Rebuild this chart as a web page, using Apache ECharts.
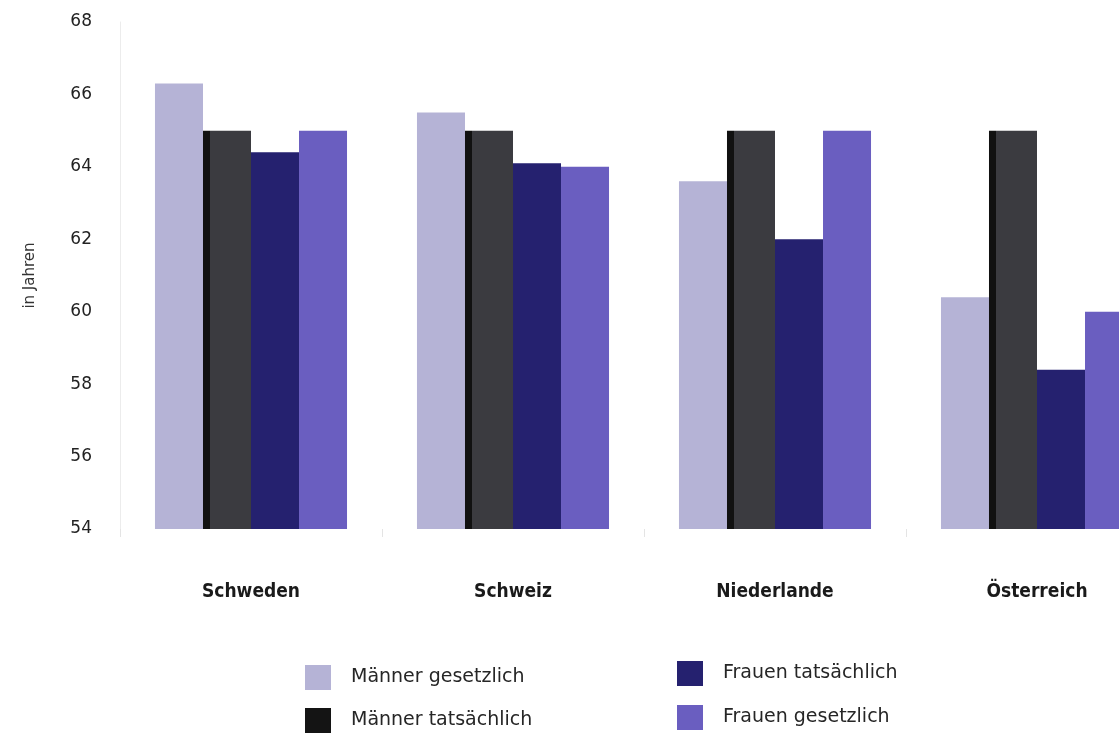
<!DOCTYPE html>
<html>
<head>
<meta charset="utf-8">
<title>Rentenalter</title>
<script src="https://cdn.jsdelivr.net/npm/echarts@6/dist/echarts.min.js"></script>
<style>
  html, body { margin: 0; padding: 0; background: #ffffff; overflow: hidden; }
  /* die Zeichenfläche ist breiter als das Fenster; die letzte Säule wird angeschnitten */
  #chart { width: 1172px; height: 734px; }
</style>
</head>
<body>
<div id="chart"></div>
<script>
// Länder
const countries = ['Schweden', 'Schweiz', 'Niederlande', 'Österreich'];

// Rentenalter in Jahren
const maennerGesetzlich   = [66.3, 65.5, 63.6, 60.4];
const maennerTatsaechlich = [65.0, 65.0, 65.0, 65.0];
const frauenTatsaechlich  = [64.4, 64.1, 62.0, 58.4];
const frauenGesetzlich    = [65.0, 64.0, 65.0, 60.0];

// Achsenskala
const yMin = 54, yMax = 68, yStep = 2;

const chart = echarts.init(document.getElementById('chart'), null, { renderer: 'canvas' });

const legendText = {
  fontFamily: 'DejaVu Sans',
  fontSize: 19,
  color: '#262626',
  padding: [0, 0, 0, 15]
};

// dunkle Säule mit schwarzer linker Kante
const darkBar = new echarts.graphic.LinearGradient(0, 0, 1, 0, [
  { offset: 0, color: '#111111' },
  { offset: 0.14, color: '#111111' },
  { offset: 0.14, color: '#3b3b40' },
  { offset: 1, color: '#3b3b40' }
]);

chart.setOption({
  animation: false,
  backgroundColor: '#ffffff',
  grid: { left: 120, top: 22, width: 1048, height: 507, containLabel: false },
  legend: [
    {
      orient: 'vertical',
      left: 305,
      top: 665,
      padding: 0,
      itemWidth: 26,
      itemHeight: 25,
      itemGap: 18,
      icon: 'rect',
      textStyle: legendText,
      data: [
        { name: 'Männer gesetzlich' },
        { name: 'Männer tatsächlich', itemStyle: { color: '#141414' } }
      ]
    },
    {
      orient: 'vertical',
      left: 677,
      top: 661,
      padding: 0,
      itemWidth: 26,
      itemHeight: 25,
      itemGap: 19,
      icon: 'rect',
      textStyle: legendText,
      data: [{ name: 'Frauen tatsächlich' }, { name: 'Frauen gesetzlich' }]
    }
  ],
  xAxis: {
    type: 'category',
    data: countries,
    axisLine: { show: false },
    axisTick: { show: true, length: 8, lineStyle: { color: '#e4e4e4' } },
    axisLabel: {
      margin: 54,
      fontFamily: 'DejaVu Sans Condensed',
      fontWeight: 'bold',
      fontSize: 19,
      color: '#1a1a1a'
    }
  },
  yAxis: {
    type: 'value',
    min: yMin,
    max: yMax,
    interval: yStep,
    name: 'in Jahren',
    nameLocation: 'middle',
    nameGap: 82,
    nameRotate: 90,
    nameTextStyle: { fontFamily: 'DejaVu Sans', fontSize: 15, color: '#333333' },
    axisLine: { show: true, lineStyle: { color: '#ececec', width: 1 } },
    axisTick: { show: false },
    splitLine: { show: false },
    axisLabel: {
      margin: 28,
      fontFamily: 'DejaVu Sans',
      fontSize: 17,
      color: '#222222'
    }
  },
  series: [
    {
      name: 'Männer gesetzlich',
      type: 'bar',
      data: maennerGesetzlich,
      itemStyle: { color: '#b5b3d6' },
      barGap: '0%',
      barCategoryGap: '26.7%'
    },
    {
      name: 'Männer tatsächlich',
      type: 'bar',
      data: maennerTatsaechlich,
      itemStyle: { color: darkBar }
    },
    {
      name: 'Frauen tatsächlich',
      type: 'bar',
      data: frauenTatsaechlich,
      itemStyle: { color: '#25216f' }
    },
    {
      name: 'Frauen gesetzlich',
      type: 'bar',
      data: frauenGesetzlich,
      itemStyle: { color: '#6a5ec0' }
    }
  ]
});
</script>
</body>
</html>
